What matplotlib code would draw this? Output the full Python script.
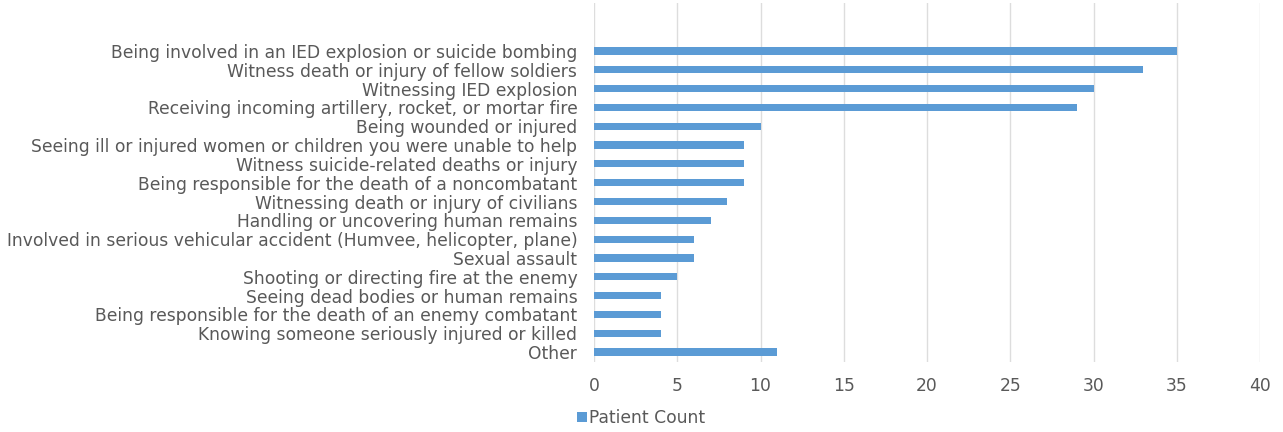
import matplotlib.pyplot as plt

categories = [
    "Being involved in an IED explosion or suicide bombing",
    "Witness death or injury of fellow soldiers",
    "Witnessing IED explosion",
    "Receiving incoming artillery, rocket, or mortar fire",
    "Being wounded or injured",
    "Seeing ill or injured women or children you were unable to help",
    "Witness suicide-related deaths or injury",
    "Being responsible for the death of a noncombatant",
    "Witnessing death or injury of civilians",
    "Handling or uncovering human remains",
    "Involved in serious vehicular accident (Humvee, helicopter, plane)",
    "Sexual assault",
    "Shooting or directing fire at the enemy",
    "Seeing dead bodies or human remains",
    "Being responsible for the death of an enemy combatant",
    "Knowing someone seriously injured or killed",
    "Other",
]
patientCount = [35, 33, 30, 29, 10, 9, 9, 9, 8, 7, 6, 6, 5, 4, 4, 4, 11]
xTicks = [0, 5, 10, 15, 20, 25, 30, 35, 40]

textColor = "#595959"
barColor = "#5B9BD5"

fig = plt.figure(figsize=(12.83, 4.32), dpi=100)
ax = fig.add_axes([594 / 1283, 1 - 362 / 432, 666 / 1283, 359 / 432])

pos = list(range(len(categories)))
ax.barh(pos, patientCount, height=0.38, color=barColor, label="Patient Count", zorder=3)

ax.set_xlim(0, 40)
ax.set_ylim(16.53, -2.55)
ax.set_xticks(xTicks)
ax.set_yticks(pos)
ax.set_yticklabels(categories, fontsize=12.3, color=textColor)
ax.tick_params(axis="x", labelsize=12.3, labelcolor=textColor, length=0, pad=11)
ax.tick_params(axis="y", length=0, pad=12)
ax.grid(axis="x", color="#DDDDDD", linewidth=1, zorder=0)
for s in ax.spines.values():
    s.set_visible(False)

leg = ax.legend(loc="upper left", bbox_to_anchor=(-0.048, -0.088), frameon=False,
                fontsize=12.3, handlelength=0.55, handleheight=0.55, handletextpad=0.15)
for t in leg.get_texts():
    t.set_color(textColor)

fig.savefig("out.png", dpi=100)
